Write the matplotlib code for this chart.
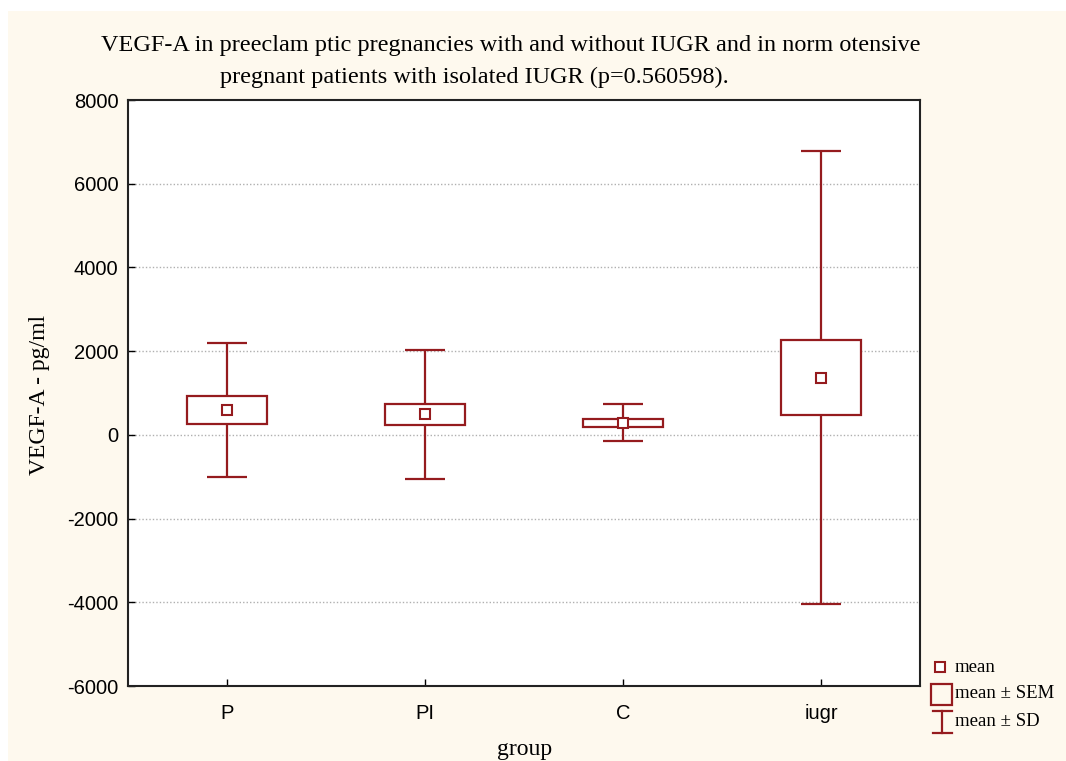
import matplotlib
matplotlib.use("Agg")
import matplotlib.pyplot as plt
from matplotlib.patches import Rectangle
from matplotlib.lines import Line2D
import numpy as np

# ---- data ----
groups = ["P", "PI", "C", "iugr"]
means = [595, 490, 290, 1365]
sems = [335, 247, 92, 895]
sds = [1605, 1537, 446, 5410]
yticks = [-6000, -4000, -2000, 0, 2000, 4000, 6000, 8000]

title1 = "VEGF-A in preeclam ptic pregnancies with and without IUGR and in norm otensive"
title2 = "pregnant patients with isolated IUGR (p=0.560598)."

RED = "#951b1e"
CREAM = "#fef9ee"
W, H = 1066, 761

fig = plt.figure(figsize=(W / 100, H / 100), dpi=100, facecolor=CREAM)
# white strip at top/left (page margin)
fig.patches.append(Rectangle((0, 1 - 11 / H), 1, 11 / H, transform=fig.transFigure,
                             facecolor="white", edgecolor="none", zorder=0))
fig.patches.append(Rectangle((0, 0), 8 / W, 1, transform=fig.transFigure,
                             facecolor="white", edgecolor="none", zorder=0))

ax = fig.add_axes([128 / W, 1 - 686 / H, (920 - 128) / W, (686 - 100) / H])
ax.set_facecolor("white")

x = np.arange(len(groups))
ax.set_xlim(-0.5, len(groups) - 0.5)
ax.set_ylim(yticks[0], yticks[-1])

# grid
for yt in yticks[1:-1]:
    ax.axhline(yt, color="#b0b0b0", lw=1.0, ls=(0, (1, 1.5)), zorder=1)

box_w = 0.4
cap_w = 0.2
for xi, m, se, sd in zip(x, means, sems, sds):
    ax.vlines(xi, m - sd, m + sd, color=RED, lw=1.6, zorder=2)
    ax.hlines([m - sd, m + sd], xi - cap_w / 2, xi + cap_w / 2, color=RED, lw=1.6, zorder=2)
    ax.add_patch(Rectangle((xi - box_w / 2, m - se), box_w, 2 * se, facecolor="white",
                           edgecolor=RED, lw=1.6, zorder=3))
    ax.plot([xi], [m], marker="s", ms=7, mfc="white", mec=RED, mew=1.5, zorder=4)

ax.set_xticks(x)
ax.set_xticklabels(groups, fontfamily="Liberation Sans", fontsize=14.5)
ax.set_yticks(yticks)
ax.set_yticklabels([str(v) for v in yticks], fontfamily="Liberation Sans", fontsize=14.5)
ax.tick_params(axis="both", direction="in", length=5, width=1.0, color="black")
ax.tick_params(axis="y", pad=7)
ax.tick_params(axis="x", pad=13)
for s in ax.spines.values():
    s.set_linewidth(1.5)
    s.set_color("#222222")

serif = "Liberation Serif"
fig.text(511 / W, 1 - 45 / H, title1, ha="center", va="center", fontfamily=serif, fontsize=17.5)
fig.text(474 / W, 1 - 77 / H, title2, ha="center", va="center", fontfamily=serif, fontsize=17.5)
fig.text(40 / W, 1 - 395 / H, "VEGF-A - pg/ml", ha="center", va="center", rotation=90,
         fontfamily=serif, fontsize=17)
fig.text(525 / W, 1 - 750 / H, "group", ha="center", va="center", fontfamily=serif, fontsize=17)

# legend (drawn in pixel-based figure coords)
def fx(px):
    return px / W


def fy(py):
    return 1 - py / H


fig.add_artist(Line2D([fx(940)], [fy(667)], marker="s", ms=7, mfc="white", mec=RED, mew=1.5))
fig.add_artist(Rectangle((fx(931), fy(705)), 21 / W, 21 / H, transform=fig.transFigure,
                         facecolor="none", edgecolor=RED, lw=1.6))
fig.add_artist(Line2D([fx(942), fx(942)], [fy(711), fy(733)], color=RED, lw=1.6))
fig.add_artist(Line2D([fx(933), fx(952)], [fy(711), fy(711)], color=RED, lw=1.6))
fig.add_artist(Line2D([fx(933), fx(952)], [fy(733), fy(733)], color=RED, lw=1.6))
for ty, lab in [(667, "mean"), (694, "mean ± SEM"), (721, "mean ± SD")]:
    fig.text(fx(955), fy(ty), lab, ha="left", va="center", fontfamily=serif, fontsize=13.5)

fig.savefig("out.png", dpi=100, facecolor=CREAM)
